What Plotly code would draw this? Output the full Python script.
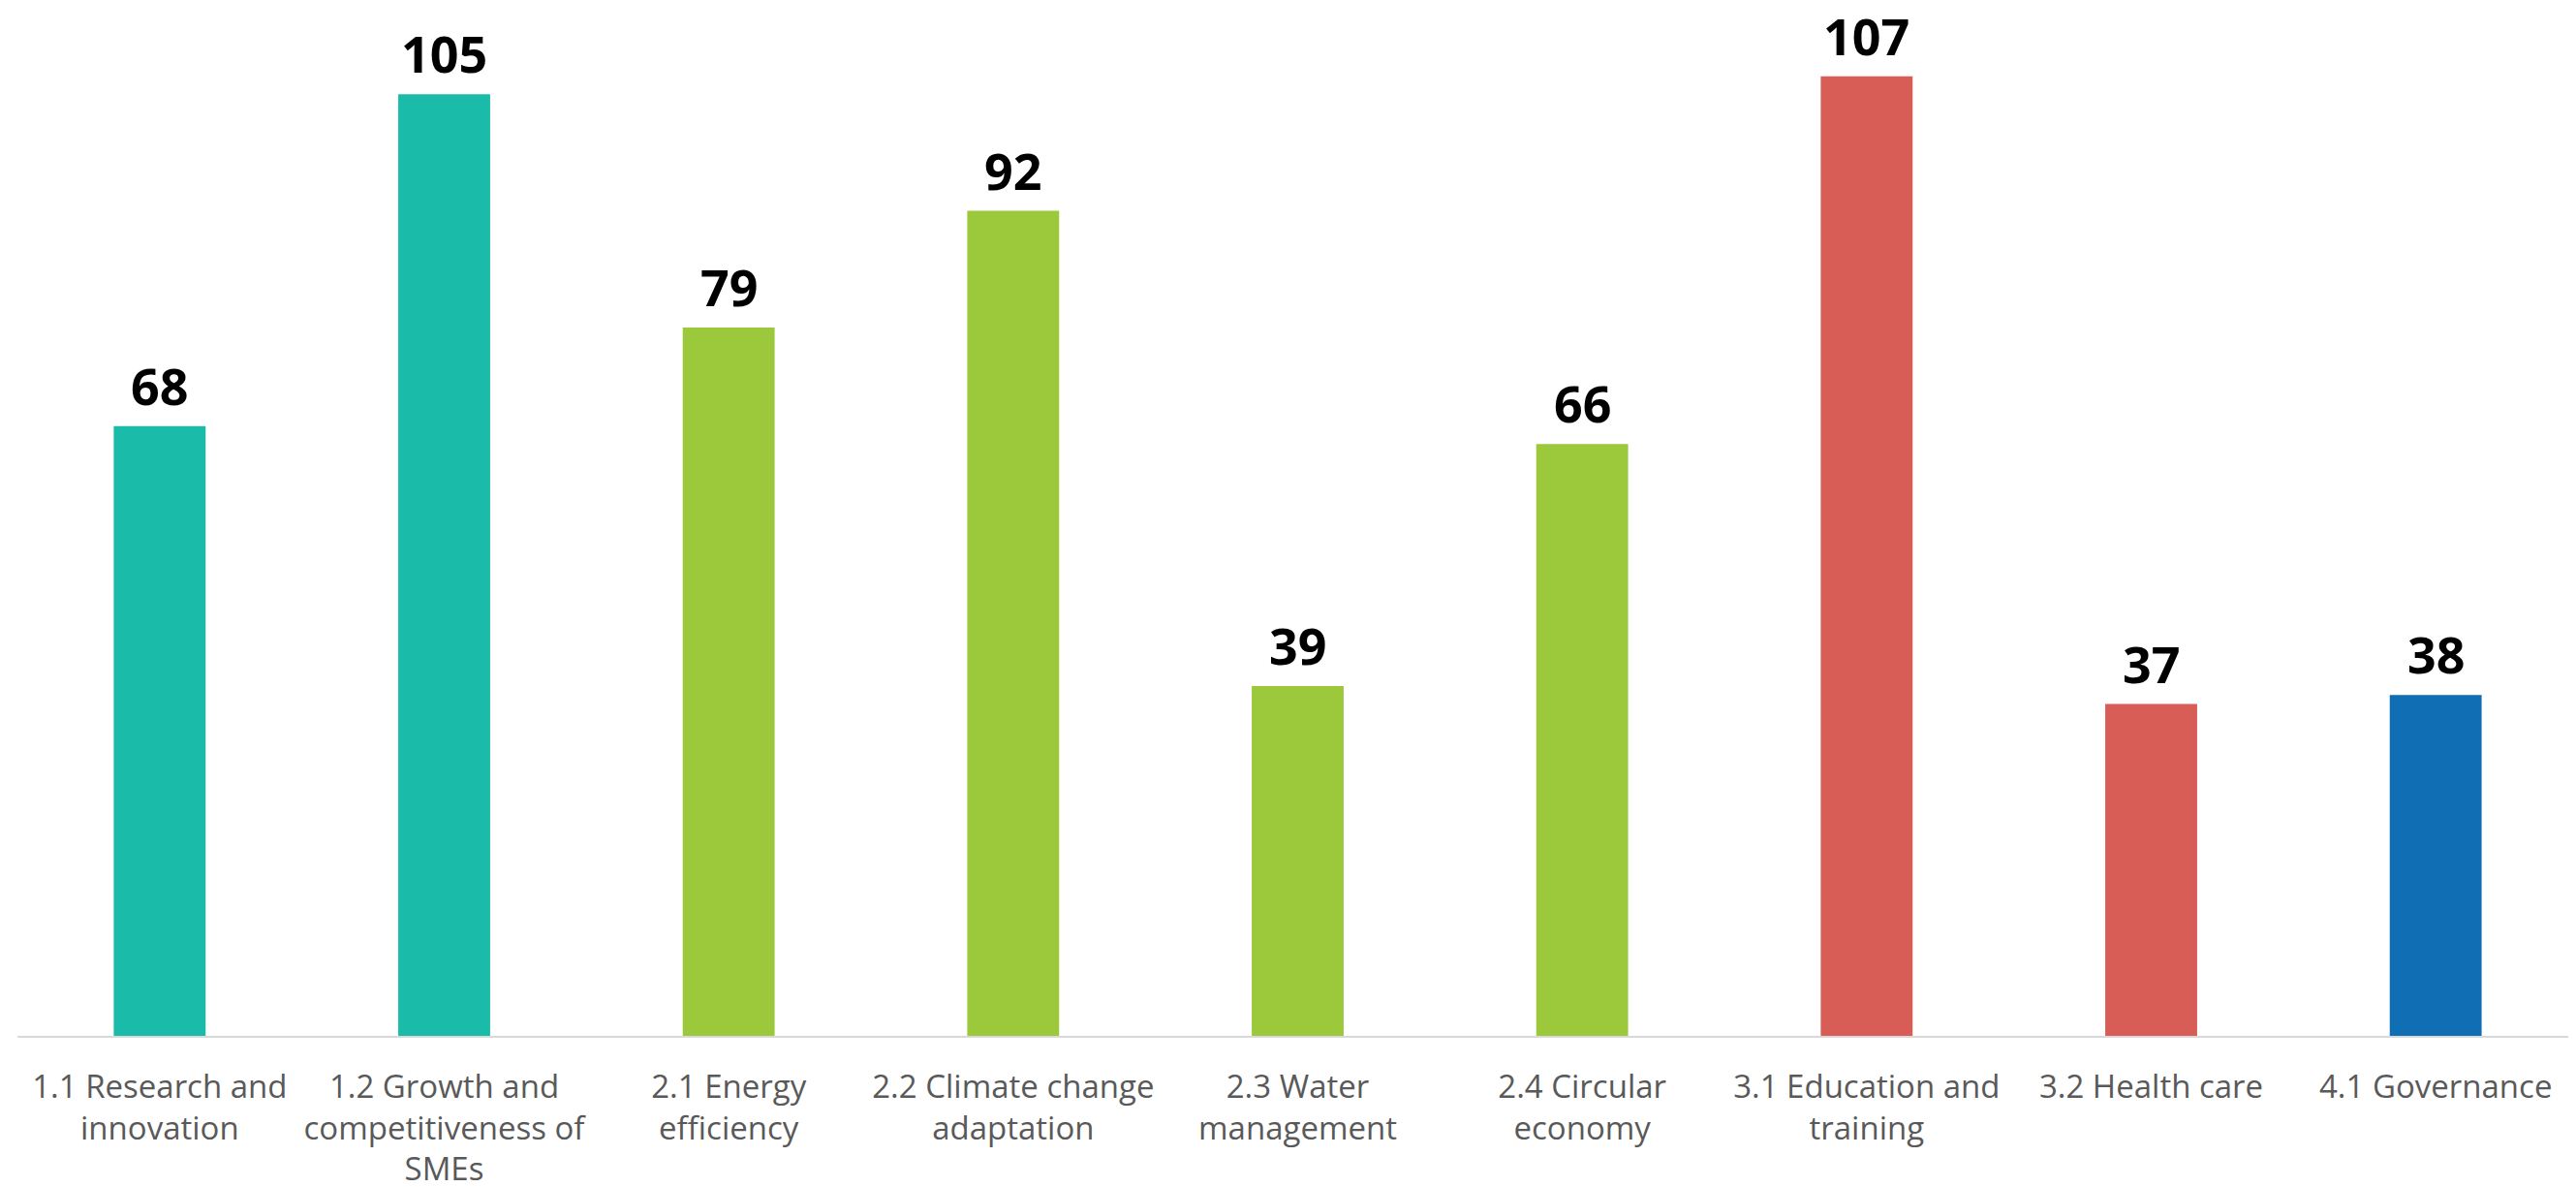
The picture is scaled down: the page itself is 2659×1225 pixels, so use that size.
import plotly.graph_objects as go

categories = [
    "1.1 Research and<br>innovation",
    "1.2 Growth and<br>competitiveness of<br>SMEs",
    "2.1 Energy<br>efficiency",
    "2.2 Climate change<br>adaptation",
    "2.3 Water<br>management",
    "2.4 Circular<br>economy",
    "3.1 Education and<br>training",
    "3.2 Health care",
    "4.1 Governance",
]
values = [68, 105, 79, 92, 39, 66, 107, 37, 38]
colors = ["#1ABCA9", "#1ABCA9", "#9BC93B", "#9BC93B", "#9BC93B", "#9BC93B",
          "#D95D57", "#D95D57", "#0F6EB4"]

fig = go.Figure()
fig.add_trace(go.Bar(
    x=categories, y=values, marker=dict(color=colors, line=dict(width=0)),
    hoverinfo="x+y",
))

for c, v in zip(categories, values):
    fig.add_annotation(
        x=c, y=v, text=f"<b>{v}</b>", showarrow=False,
        yanchor="bottom", yshift=5,
        font=dict(family="Open Sans", size=52, color="#000000"),
    )

fig.update_layout(
    width=2659, height=1225,
    margin=dict(l=10, r=6, t=6, b=164),
    paper_bgcolor="white", plot_bgcolor="white",
    bargap=0.677,
    showlegend=False,
    xaxis=dict(
        showline=True, linecolor="#D9D9D9", linewidth=2,
        showgrid=False, zeroline=False,
        ticks="", ticklabelstandoff=22,
        tickfont=dict(family="Open Sans", size=33, color="#595959"),
    ),
    yaxis=dict(
        range=[0, 114], visible=False, showgrid=False, zeroline=False,
    ),
)

fig.write_html("out.html")
